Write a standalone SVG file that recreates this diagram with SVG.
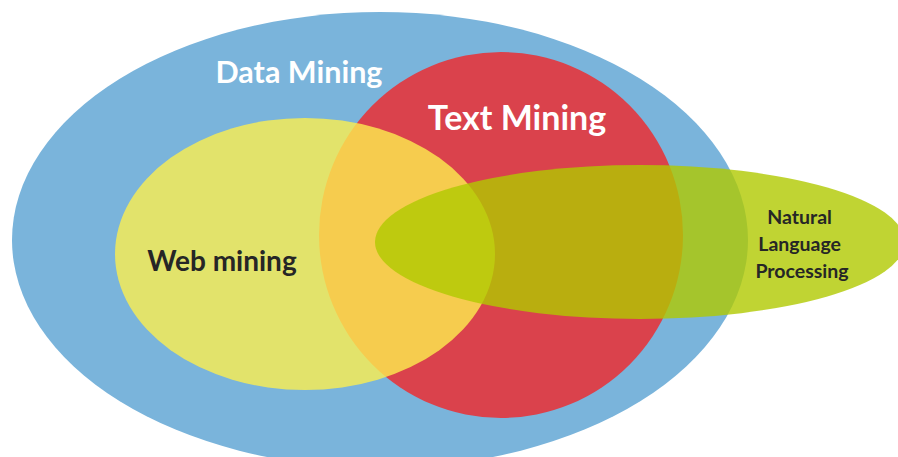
<svg xmlns="http://www.w3.org/2000/svg" width="898" height="457" viewBox="0 0 898 457">
  <style>
    .label { font-family: Lato, "Open Sans", "Liberation Sans", sans-serif; font-weight: bold; }
    .light { fill: #ffffff; }
    .dark { fill: #262626; }
  </style>
  <rect width="898" height="457" fill="#ffffff"/>
  <g id="data-mining">
    <ellipse cx="380" cy="240" rx="368" ry="228" fill="#7AB4DB"/>
    <text class="label light" x="299" y="83" font-size="30.5" text-anchor="middle">Data Mining</text>
  </g>
  <g id="text-mining">
    <ellipse cx="501" cy="235" rx="182" ry="183" fill="#DA424C"/>
  </g>
  <g id="web-mining">
    <ellipse cx="305" cy="254" rx="190" ry="136" fill="#FDEF4F" fill-opacity="0.8"/>
    <text class="label dark" x="222" y="271" font-size="28" text-anchor="middle">Web mining</text>
  </g>
  <g id="nlp">
    <ellipse cx="640" cy="242" rx="265" ry="77" fill="#B0C900" fill-opacity="0.8"/>
    <text class="label dark" font-size="19.5" text-anchor="middle">
      <tspan x="802" y="224">Natural</tspan>
      <tspan x="802" y="251">Language</tspan>
      <tspan x="802" y="278">Processing</tspan>
    </text>
  </g>
  <text class="label light" x="517" y="130" font-size="34" text-anchor="middle">Text Mining</text>
</svg>
